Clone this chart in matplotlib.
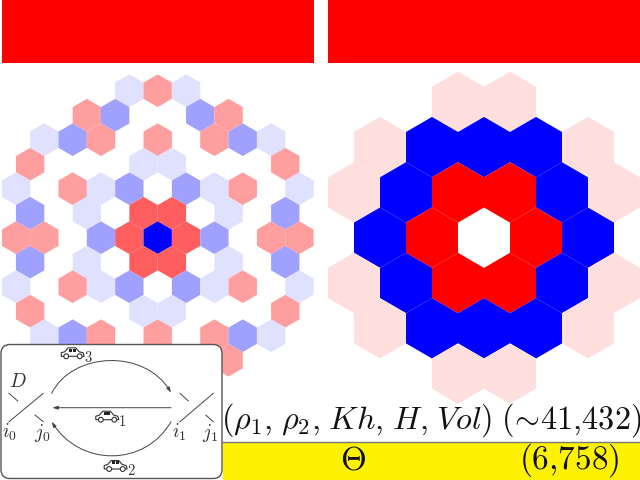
import matplotlib
matplotlib.use("Agg")
import matplotlib.pyplot as plt
import matplotlib.transforms as mt
from matplotlib.collections import PolyCollection
from matplotlib.patches import Rectangle, FancyBboxPatch, FancyArrowPatch, Circle, PathPatch
from matplotlib.path import Path
from matplotlib.colors import Normalize

plt.rcParams['mathtext.fontset'] = 'cm'
plt.rcParams['font.family'] = ['DejaVu Serif']

# ---- data: levels per hexagon row (even rows: 11 / 5 cells, odd rows: 10 / 6 cells)
L, M, r, R, B = -0.125, -0.375, 0.375, 0.625, -1.0
left_rows = {
    -6: [0, 0, 0, 0, L, r, L, 0, 0, 0, 0],
    -5: [0, 0, r, M, 0, 0, M, r, 0, 0],
    -4: [0, L, M, r, 0, r, 0, r, M, L, 0],
    -3: [r, 0, 0, 0, L, L, 0, 0, 0, r],
    -2: [L, 0, r, L, M, 0, M, L, r, 0, L],
    -1: [M, 0, L, 0, R, R, 0, L, 0, M],
    0:  [r, r, 0, M, R, B, R, M, 0, r, r],
    1:  [M, 0, L, 0, R, R, 0, L, 0, M],
    2:  [L, 0, r, L, M, 0, M, L, r, 0, L],
    3:  [r, 0, 0, 0, L, L, 0, 0, 0, r],
    4:  [0, L, M, r, 0, r, 0, r, M, L, 0],
    5:  [0, 0, r, M, 0, 0, M, r, 0, 0],
    6:  [0, 0, 0, 0, L, r, L, 0, 0, 0, 0],
}
P, Bl, Rd = 0.125, -1.0, 1.0
right_rows = {
    -3: [0, 0, P, P, 0, 0],
    -2: [P, Bl, Bl, Bl, P],
    -1: [P, Bl, Rd, Rd, Bl, P],
    0:  [Bl, Rd, 0, Rd, Bl],
    1:  [P, Bl, Rd, Rd, Bl, P],
    2:  [P, Bl, Bl, Bl, P],
    3:  [0, 0, P, P, 0, 0],
}
main_label = r'$(\rho_1,\!\;\rho_2,\!\;Kh,\!\;H,\!\;Vol)\;(\!\sim\!41{,}432)$'
theta_label = r'$\Theta$'
theta_count = r'$(6{,}758)$'
road_labels = ['$i_0$', '$j_0$', '$i_1$', '$j_1$']
car_numbers = ['$3$', '$1$', '$2$']

W, H = 640, 480
fig = plt.figure(figsize=(W / 100, H / 100), dpi=100, facecolor='white')


def px_axes(x0, y0, x1, y1):
    a = fig.add_axes([x0 / W, 1 - y1 / H, (x1 - x0) / W, (y1 - y0) / H])
    a.set_axis_off()
    return a


def hexgrid(a, rows):
    verts, vals = [], []
    for row, levels in rows.items():
        n = len(levels)
        for i, v in enumerate(levels):
            if v == 0:
                continue
            q = i - (n - 1) / 2
            verts.append([(q, row - 2 / 3), (q + .5, row - 1 / 3), (q + .5, row + 1 / 3),
                          (q, row + 2 / 3), (q - .5, row + 1 / 3), (q - .5, row - 1 / 3)])
            vals.append(v)
    a.add_collection(PolyCollection(verts, array=vals, cmap='bwr', norm=Normalize(-1, 1), linewidths=0))


cx, cy = 157.7, 237.7
sx, sy = 28.35, 24.5
axl = px_axes(cx - 5.5 * sx, cy - 7 * sy, cx + 5.5 * sx, cy + 7 * sy)
axl.set_xlim(-5.5, 5.5); axl.set_ylim(7, -7)
hexgrid(axl, left_rows)

cx, cy = 484, 237.7
sx, sy = 52, 45.3
axr = px_axes(cx - 3 * sx, cy - 4 * sy, cx + 3 * sx, cy + 4 * sy)
axr.set_xlim(-3, 3); axr.set_ylim(4, -4)
hexgrid(axr, right_rows)

# overlay in pixel coordinates
ax = fig.add_axes([0, 0, 1, 1], facecolor='none')
ax.set_xlim(0, W); ax.set_ylim(H, 0); ax.set_axis_off()

ax.add_patch(Rectangle((1.5, 0), 312, 63, fc='#ff0000', lw=0))
ax.add_patch(Rectangle((328, 0), 312, 62.5, fc='#ff0000', lw=0))
ax.add_patch(Rectangle((223, 442), 417, 38, fc='#fff200', lw=0))
ax.plot([223, 640], [441.5, 441.5], color='#777777', lw=1.0)

ax.text(431, 420, main_label, fontsize=23.2, ha='center', va='center', color='#111111', zorder=11)
ax.text(353, 461, theta_label, fontsize=24, ha='center', va='center', color='#111111')
ax.text(569, 460.5, theta_count, fontsize=24, ha='center', va='center', color='#111111')

# inset diagram
ax.add_patch(FancyBboxPatch((1, 344.5), 221, 134, boxstyle='round,pad=0,rounding_size=9',
                            fc='white', ec='#555555', lw=1.0, zorder=5))
ink = '#444444'
segments = [((9, 421.7), (43.3, 393.3)), ((9, 393.3), (17.7, 401)), ((35, 415), (43.3, 421.7)),
            ((180, 421.7), (213.3, 393.3)), ((180, 393.3), (188.3, 401)), ((205.7, 415), (213.3, 421.7))]
for a, b in segments:
    ax.plot([a[0], b[0]], [a[1], b[1]], color=ink, lw=0.7, zorder=6)

arrow = dict(arrowstyle='-|>,head_length=3.2,head_width=1.0', color=ink, lw=0.7,
             shrinkA=0, shrinkB=0, zorder=6)
curve = [Path.MOVETO, Path.CURVE4, Path.CURVE4, Path.CURVE4]
ax.add_patch(FancyArrowPatch(path=Path([(51.7, 393.3), (72, 352), (145, 348), (171, 392.7)], curve), **arrow))
ax.add_patch(FancyArrowPatch(path=Path([(171, 421.7), (145, 467), (80, 467), (51.7, 421.7)], curve), **arrow))
ax.add_patch(FancyArrowPatch((171, 407.7), (52.3, 407.7), **arrow))


def place_car(x, y):
    """Car icon: white body with two dark windows and two wheels."""
    body = [(-11.5, 3), (-11.5, -0.5), (-8, -1.5), (-4.5, -5.5), (3, -5.5), (6.5, -1.5),
            (10.5, -0.5), (11.5, 3), (-11.5, 3)]
    tr = mt.Affine2D().translate(x, y) + ax.transData
    ax.add_patch(PathPatch(Path(body), fc='white', ec='#333333', lw=0.8, zorder=7, transform=tr))
    ax.add_patch(Rectangle((x - 3.5, y - 4.7), 2.8, 3, fc='#222222', lw=0, zorder=8))
    ax.add_patch(Rectangle((x, y - 4.7), 2.8, 3, fc='#222222', lw=0, zorder=8))
    for dx in (-6.5, 7):
        ax.add_patch(Circle((x + dx, y + 3), 2.4, fc='white', ec='#333333', lw=0.8, zorder=9))


place_car(72.7, 353.3)
place_car(107.3, 416.7)
place_car(115.7, 466)

small = dict(fontsize=14, ha='center', va='center', color='#333333', zorder=10)
num = dict(fontsize=10.5, ha='center', va='center', color='#333333', zorder=10)
for (xp, yp), lab in zip(((88.5, 358), (122.5, 421), (131, 470.5)), car_numbers):
    ax.text(xp, yp, lab, **num)
ax.text(17.7, 382, '$D$', **small)
for xp, lab in zip((9, 42, 179, 210.5), road_labels):
    ax.text(xp, 432.5, lab, **small)

fig.savefig('out.png', dpi=100)
